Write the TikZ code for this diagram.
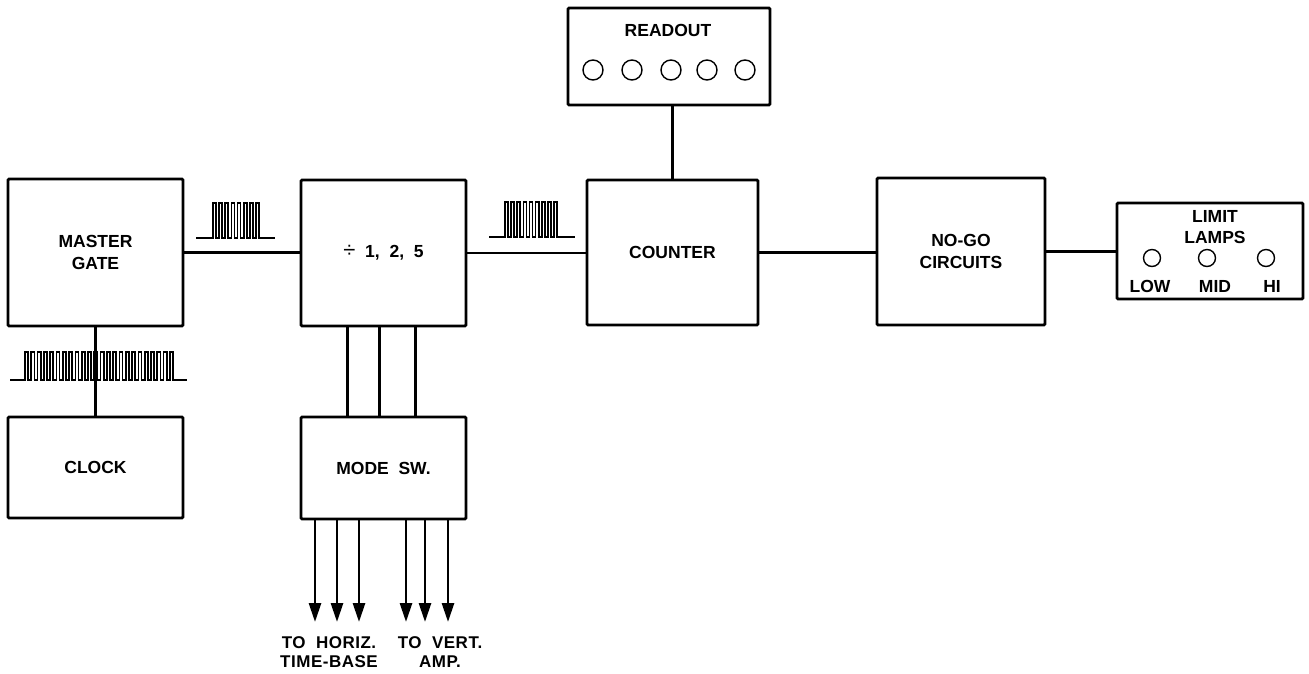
\documentclass[tikz,border=0pt]{standalone}
\usepackage{fontspec}
\setmainfont{Liberation Sans}
\usetikzlibrary{arrows.meta,calc}
\newcommand\boxfont{\fontsize{17.5}{22}\selectfont\bfseries}
\newcommand\lblfont{\fontsize{17}{19}\selectfont\bfseries\addfontfeatures{LetterSpace=3}}
\newcommand\pulsetrain[7]{%
  \pgfmathsetmacro\ptp{(#3-#2)/(#7-0.5)}%
  \pgfmathsetmacro\ptw{\ptp/2}%
  \pgfmathsetmacro\ptg{\ptp-\ptw}%
  \pgfmathsetmacro\pth{#5-#6}%
  \draw[pulse] (#1,#5) -- (#2,#5) \foreach \k in {1,...,#7}{ -- ++(0,-\pth) -- ++(\ptw,0) -- ++(0,\pth) -- ++(\ptg,0)} -- (#4,#5);%
}
\begin{document}
\begin{tikzpicture}[x=1pt,y=-1pt,
  box/.style={draw, line width=2.8pt, rounded corners=1.2pt, inner sep=0pt, align=center, font=\boxfont},
  wire/.style={line width=2.8pt},
  arr/.style={line width=2.8pt, -{Triangle[length=19pt,width=12pt]}},
  lamp/.style={draw, circle, line width=1.4pt, inner sep=0pt},
  pulse/.style={line width=1.7pt, line join=miter},
  txt/.style={inner sep=0pt, align=center, font=\boxfont},
  lbl/.style={inner sep=0pt, align=center, font=\lblfont}]
\useasboundingbox (0,0) rectangle (1309,673);

% boxes
\node[box, minimum width=175pt, minimum height=147pt] (mg) at (95.5,252.5) {MASTER\\GATE};
\node[box, minimum width=175pt, minimum height=101pt] (clock) at (95.5,467.5) {CLOCK};
\node[box, minimum width=165pt, minimum height=146pt] (div) at (383.5,253) {{\fontsize{22}{22}\selectfont\mdseries\char"00F7}\ \ 1,\ \ 2,\ \ 5};
\node[box, minimum width=165pt, minimum height=102pt] (mode) at (383.5,468) {MODE\ \ SW.};
\node[box, minimum width=202pt, minimum height=97pt] (readout) at (669,56.5) {};
\node[box, minimum width=171pt, minimum height=145pt] (counter) at (672.5,252.5) {COUNTER};
\node[box, minimum width=168pt, minimum height=147pt] (nogo) at (961,251.5) {NO-GO\\CIRCUITS};
\node[box, minimum width=186pt, minimum height=96pt] (limit) at (1210,251) {};

% readout contents
\node[txt] (rotitle) at (668,30) {READOUT};
\foreach \n/\x in {1/593,2/632,3/671,4/707,5/745}
  \node[lamp, minimum size=20pt] (r\n) at (\x,70) {};

% limit lamps contents
\node[txt, font=\fontsize{17.5}{21}\selectfont\bfseries] (lltitle) at (1215,227.5) {LIMIT\\LAMPS};
\node[lamp, minimum size=17pt] (llow) at (1152,258) {};
\node[lamp, minimum size=17pt] (lmid) at (1207,258) {};
\node[lamp, minimum size=17pt] (lhi) at (1266,258) {};
\node[txt] (tlow) at (1150,286) {LOW};
\node[txt] (tmid) at (1215,286) {MID};
\node[txt] (thi) at (1272,286) {HI};

% connectors
\draw[wire] (mg.south) -- (clock.north);
\draw[wire] (mg.east) -- (mg.east -| div.west);
\draw[wire] (div.east) -- (div.east -| counter.west);
\draw[wire] (counter.north) -- (counter.north |- readout.south);
\draw[wire] (counter.east) -- (counter.east -| nogo.west);
\draw[wire] (nogo.east) -- (nogo.east -| limit.west);
\foreach \d in {48,80,116}
  \draw[wire] ($(div.south west)+(\d,0)$) -- ($(mode.north west)+(\d,0)$);

% output arrows
\foreach \n/\x in {1/315,2/337,3/359,4/406,5/425,6/448}{
  \coordinate (t\n) at (\x,622);
  \draw[arr] (t\n |- mode.south) -- (t\n);
}
\node[lbl] (lh) at (329,652) {TO\ \ HORIZ.\\TIME-BASE};
\node[lbl] (lv) at (440,652) {TO\ \ VERT.\\AMP.};

% pulse trains
\pulsetrain{10}{25}{173}{187}{380}{352}{24}
\pulsetrain{196}{213}{259}{275}{238}{203}{8}
\pulsetrain{489}{505}{557}{575}{237}{202}{9}
\end{tikzpicture}
\end{document}
